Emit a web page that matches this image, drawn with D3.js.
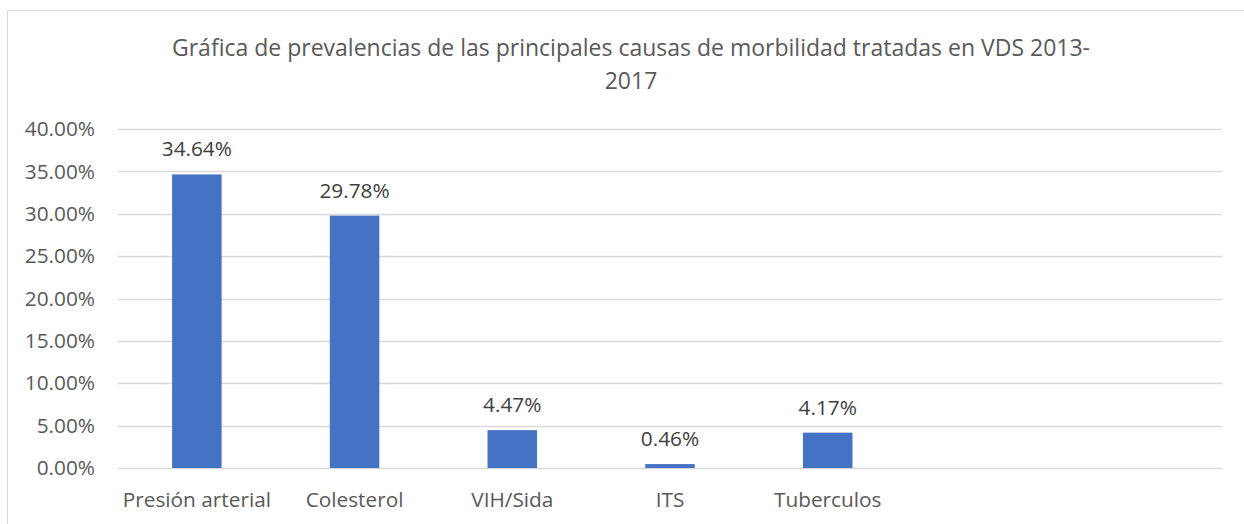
<!DOCTYPE html>
<html><head><meta charset="utf-8">
<script src="https://cdn.jsdelivr.net/npm/d3@7/dist/d3.min.js"></script>
<style>html,body{margin:0;padding:0;background:#fff;overflow:hidden}</style>
</head><body><svg id="c" width="1244" height="524"></svg>
<script>
const categories = ["Presión arterial", "Colesterol", "VIH/Sida", "ITS", "Tuberculos", "", ""];
const values = [34.64, 29.78, 4.47, 0.46, 4.17, null, null];
const yTicks = [0, 5, 10, 15, 20, 25, 30, 35, 40];
const titleLines = ["Gráfica de prevalencias de las principales causas de morbilidad tratadas en VDS 2013-", "2017"];

(function () {
const svg = d3.select("#c");
const font = "'Open Sans', sans-serif";
const textColor = "#595959";
const mLeft = 118, mRight = 1222, mTop = 129, mBottom = 468;
const fs = 20.8;

svg.append("rect").attr("x", 7.5).attr("y", 10.5).attr("width", 1260).attr("height", 560)
  .attr("fill", "#fff").attr("stroke", "#d9d9d9").attr("stroke-width", 1);

const x = d3.scaleBand().domain(d3.range(categories.length)).range([mLeft, mRight])
  .paddingInner(0.686).paddingOuter(0.343);
const xSlot = d3.scaleBand().domain(d3.range(categories.length)).range([mLeft, mRight]);
const y = d3.scaleLinear().domain([0, 40]).range([mBottom, mTop]);

svg.append("g").selectAll("line").data(yTicks).join("line")
  .attr("x1", mLeft).attr("x2", mRight)
  .attr("y1", d => Math.round(y(d)) + 0.5).attr("y2", d => Math.round(y(d)) + 0.5)
  .attr("stroke", "#d9d9d9").attr("stroke-width", 1.3);

const yAxis = d3.axisLeft(y).tickValues(yTicks).tickSize(0).tickPadding(0)
  .tickFormat(d => d.toFixed(2) + "%");
const gy = svg.append("g").attr("transform", "translate(95,0)").call(yAxis);
gy.select(".domain").remove();
gy.selectAll("text").attr("font-family", font).attr("font-size", fs).attr("fill", textColor);

const xAxis = d3.axisBottom(xSlot).tickSize(0).tickPadding(0).tickFormat(i => categories[i]);
const gx = svg.append("g").attr("transform", `translate(0,${mBottom + 24})`).call(xAxis);
gx.select(".domain").remove();
gx.selectAll("text").attr("font-family", font).attr("font-size", fs).attr("fill", textColor);

const data = values.map((v, i) => ({i, v})).filter(d => d.v != null);

svg.append("g").selectAll("rect").data(data).join("rect")
  .attr("x", d => x(d.i)).attr("width", x.bandwidth())
  .attr("y", d => y(d.v)).attr("height", d => y(0) - y(d.v))
  .attr("fill", "#4472c4");

svg.append("g").selectAll("text").data(data).join("text")
  .attr("x", d => x(d.i) + x.bandwidth() / 2).attr("y", d => y(d.v) - 18)
  .attr("text-anchor", "middle").attr("font-family", font).attr("font-size", fs)
  .attr("fill", "#404040").text(d => d.v.toFixed(2) + "%");

svg.append("g").selectAll("text").data(titleLines).join("text")
  .attr("x", 631).attr("y", (d, i) => 56 + i * 33)
  .attr("text-anchor", "middle").attr("font-family", font).attr("font-size", 23)
  .attr("fill", textColor).text(d => d);
})();
</script></body></html>
